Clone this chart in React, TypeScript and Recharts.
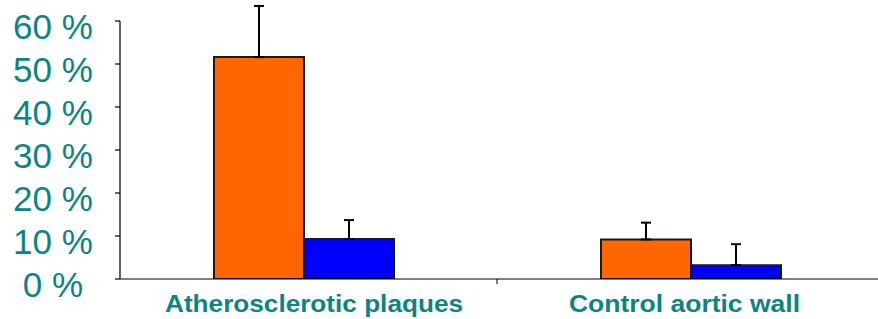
import React from 'react';
import { BarChart, Bar, XAxis, YAxis, ErrorBar } from 'recharts';

const categories = ['Atherosclerotic plaques', 'Control aortic wall'];
const orangeValues = [51.6, 9.2];
const orangeErrors = [11.9, 3.9];
const blueValues = [9.3, 3.2];
const blueErrors = [4.4, 4.9];
const yTicks = [0, 10, 20, 30, 40, 50, 60];

const data = categories.map((c, i) => ({
  name: c,
  orange: orangeValues[i],
  orangeErr: [0, orangeErrors[i]],
  blue: blueValues[i],
  blueErr: [0, blueErrors[i]],
}));

const TEAL = '#0b8581';
const FONT = '"Liberation Sans", Arial, sans-serif';
const LABEL_DX = [10.5, -6];
const LABEL_W = [298, 231];

const YTick = (props: any) => {
  const { x, y, payload } = props;
  return (
    <text x={x} y={y} dy={18} textAnchor="middle" fill={TEAL} fontSize={35} fontFamily={FONT}>
      {`${payload.value} %`}
    </text>
  );
};

const XTick = (props: any) => {
  const { x, y, payload, index } = props;
  const half = payload.offset ?? 193.5;
  return (
    <g>
      {index === 0 && <line x1={x + half} x2={x + half} y1={y - 5} y2={y} stroke="#000" strokeWidth={1} />}
      <text
        x={x + LABEL_DX[index]}
        y={y + 28}
        textAnchor="middle"
        fill={TEAL}
        fontWeight="bold"
        fontSize={23}
        fontFamily={FONT}
        textLength={LABEL_W[index]}
        lengthAdjust="spacingAndGlyphs"
      >
        {payload.value}
      </text>
    </g>
  );
};

export default function App() {
  return (
    <div style={{ position: 'absolute', left: 0, top: 0, background: '#fff' }}>
      <BarChart
        width={878}
        height={319}
        data={data}
        margin={{ top: 21, right: 0, bottom: 0, left: 0 }}
        barGap={0}
        barSize={90}
      >
        <XAxis
          dataKey="name"
          height={40}
          padding={{ left: -10, right: -6 }}
          tickLine={false}
          tickSize={5}
          tickMargin={0}
          axisLine={{ stroke: '#000', strokeWidth: 1.2 }}
          tick={<XTick />}
          interval={0}
        />
        <YAxis
          width={120}
          domain={[0, 60]}
          allowDataOverflow
          ticks={yTicks}
          tickSize={5}
          tickMargin={62}
          axisLine={{ stroke: '#000', strokeWidth: 1.2 }}
          tickLine={{ stroke: '#000', strokeWidth: 1.2 }}
          tick={<YTick />}
          interval={0}
        />
        <Bar dataKey="orange" fill="#FF6600" stroke="#1a1a1a" strokeWidth={2} isAnimationActive={false}>
          <ErrorBar dataKey="orangeErr" width={5} stroke="#000" strokeWidth={2} direction="y" />
        </Bar>
        <Bar dataKey="blue" fill="#0000FF" stroke="#1a1a1a" strokeWidth={2} isAnimationActive={false}>
          <ErrorBar dataKey="blueErr" width={5} stroke="#000" strokeWidth={2} direction="y" />
        </Bar>
      </BarChart>
    </div>
  );
}
